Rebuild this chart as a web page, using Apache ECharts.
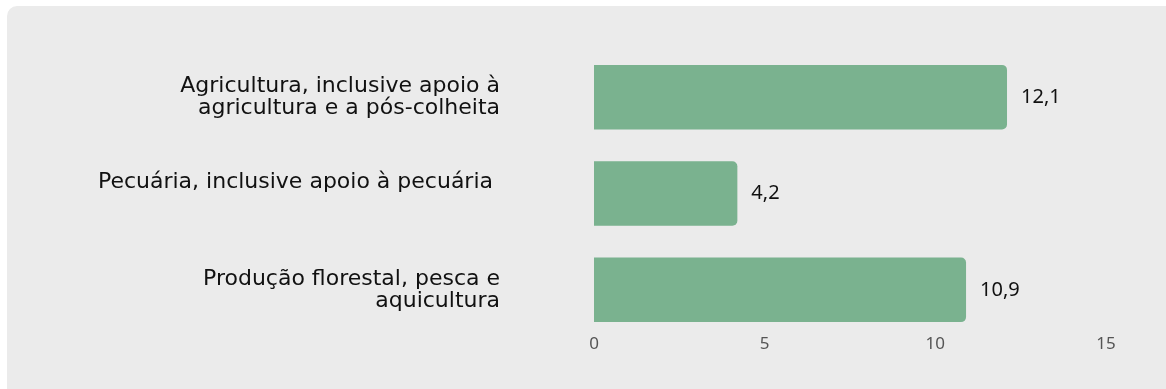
<!DOCTYPE html>
<html>
<head>
<meta charset="utf-8">
<script src="https://cdn.jsdelivr.net/npm/echarts@6/dist/echarts.min.js"></script>
<style>
  html, body { margin: 0; padding: 0; background: #ffffff; }
  .panel {
    position: absolute; left: 7px; top: 6px; right: 0; bottom: 0;
    background: #ebebeb; border-radius: 10px 0 0 0;
  }
  #chart { position: absolute; left: 0; top: 0; width: 1166px; height: 389px; }
</style>
</head>
<body>
<div class="panel"></div>
<div id="chart"></div>
<script>
// categorias (de cima para baixo)
const categorias = [
  'Agricultura, inclusive apoio à\nagricultura e a pós-colheita',
  'Pecuária, inclusive apoio à pecuária \n ',
  'Produção florestal, pesca e\naquicultura'
]
const valores = [12.1, 4.2, 10.9]
const ticks = [0, 5, 10, 15]

const chart = echarts.init(document.getElementById('chart'))
chart.setOption({
  backgroundColor: 'transparent',
  textStyle: { fontFamily: 'DejaVu Sans' },
  grid: { left: 594, top: 49, width: 512, height: 289, containLabel: false },
  xAxis: {
    type: 'value',
    min: ticks[0],
    max: ticks[ticks.length - 1],
    interval: 5,
    axisLine: { show: false },
    axisTick: { show: false },
    splitLine: { show: false },
    axisLabel: { color: '#555', fontSize: 17, margin: -2, fontFamily: 'Noto Sans' }
  },
  yAxis: {
    type: 'category',
    inverse: true,
    data: categorias,
    axisLine: { show: false },
    axisTick: { show: false },
    axisLabel: {
      margin: 94,
      color: '#111',
      fontSize: 22,
      lineHeight: 22,
      align: 'right',
      fontFamily: 'DejaVu Sans',
      padding: [0, 0, 18, 0]
    }
  },
  series: [{
    type: 'bar',
    data: valores,
    barCategoryGap: '33%',
    itemStyle: { color: '#7ab28f', borderRadius: [0, 5, 5, 0] },
    label: {
      show: true,
      position: 'right',
      distance: 14,
      color: '#111',
      fontSize: 20,
      fontFamily: 'Noto Sans',
      formatter: p => String(p.value).replace('.', ',')
    }
  }]
})
</script>
</body>
</html>
